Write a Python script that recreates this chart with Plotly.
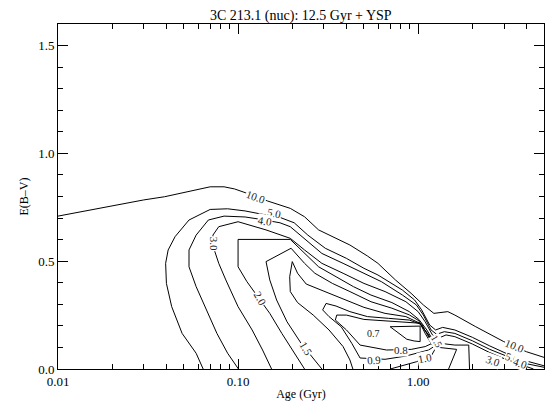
import math
import plotly.graph_objects as go

# Chi-square contours of age vs. reddening for the young stellar population
AGE_10 = [0.0100, 0.0167, 0.0299, 0.0391, 0.0500, 0.0585, 0.0700, 0.0836, 0.0956, 0.1094,
          0.146, 0.195, 0.234, 0.280, 0.350, 0.418, 0.523, 0.598, 0.748, 0.914,
          1.069, 1.223, 1.462, 1.600, 2.09, 2.99, 4.0, 5.0]
EBV_10 = [0.709, 0.745, 0.784, 0.799, 0.818, 0.833, 0.845, 0.845, 0.835, 0.818,
          0.779, 0.745, 0.706, 0.645, 0.606, 0.575, 0.524, 0.490, 0.413, 0.351,
          0.297, 0.258, 0.266, 0.250, 0.196, 0.127, 0.080, 0.054]

AGE_5 = [0.064, 0.0585, 0.0489, 0.0428, 0.0400, 0.0396, 0.0409, 0.0447, 0.0534, 0.0700,
         0.0875, 0.1094, 0.1337, 0.171, 0.205, 0.244, 0.305, 0.400, 0.500, 0.598,
         0.818, 0.956, 1.046, 1.159, 1.250, 1.368, 1.600, 2.0, 2.50, 3.126, 3.91, 5.0]
EBV_5 = [0.0, 0.073, 0.165, 0.289, 0.397, 0.490, 0.552, 0.614, 0.691, 0.740,
         0.743, 0.733, 0.719, 0.703, 0.678, 0.621, 0.560, 0.513, 0.467, 0.436,
         0.366, 0.320, 0.274, 0.204, 0.181, 0.193, 0.181, 0.147, 0.107, 0.070, 0.039, 0.015]

AGE_4 = [0.1005, 0.0875, 0.0763, 0.0668, 0.0585, 0.0534, 0.0534, 0.0585, 0.0684, 0.0836,
         0.1094, 0.1337, 0.171, 0.195, 0.234, 0.292, 0.383, 0.500, 0.625, 0.818,
         0.978, 1.069, 1.180, 1.267, 1.398, 1.600, 2.0, 2.50, 3.126, 3.91, 5.0]
EBV_4 = [0.0, 0.073, 0.165, 0.274, 0.382, 0.474, 0.552, 0.621, 0.691, 0.709,
         0.705, 0.694, 0.678, 0.660, 0.606, 0.536, 0.490, 0.444, 0.405, 0.343,
         0.297, 0.250, 0.181, 0.161, 0.173, 0.165, 0.131, 0.091, 0.057, 0.026, 0.008]

AGE_3 = [0.1535, 0.1368, 0.1197, 0.100, 0.0855, 0.0781, 0.0738, 0.0725, 0.0781, 0.100,
         0.143, 0.195, 0.234, 0.292, 0.383, 0.500, 0.655, 0.855, 1.0, 1.094,
         1.201, 1.291, 1.429, 1.600, 2.0, 2.50, 3.126, 3.91, 4.37]
EBV_3 = [0.0, 0.088, 0.181, 0.289, 0.413, 0.490, 0.552, 0.621, 0.660, 0.683,
         0.645, 0.606, 0.552, 0.490, 0.444, 0.397, 0.359, 0.312, 0.266, 0.219,
         0.158, 0.142, 0.158, 0.150, 0.116, 0.076, 0.042, 0.014, 0.0]

AGE_2 = [0.234, 0.205, 0.175, 0.150, 0.131, 0.112, 0.100, 0.100, 0.195, 0.234,
         0.280, 0.350, 0.437, 0.547, 0.715, 0.893, 1.009, 1.118, 1.223, 1.325,
         1.600, 1.91, 1.929]
EBV_2 = [0.0, 0.073, 0.165, 0.258, 0.328, 0.405, 0.474, 0.601, 0.601, 0.536,
         0.474, 0.428, 0.382, 0.343, 0.308, 0.266, 0.230, 0.181, 0.127, 0.119,
         0.111, 0.111, 0.0]

AGE_15 = [0.292, 0.2615, 0.224, 0.187, 0.1637, 0.150, 0.143, 0.197, 0.234, 0.267,
          0.334, 0.418, 0.547, 0.715, 0.893, 1.009, 1.094, 1.196, 1.308, 1.636, 1.476]
EBV_15 = [0.0, 0.049, 0.119, 0.219, 0.320, 0.413, 0.498, 0.560, 0.490, 0.444,
          0.397, 0.359, 0.312, 0.282, 0.251, 0.224, 0.165, 0.111, 0.100, 0.091, 0.0]

AGE_1 = [0.700, 0.982, 1.19, 1.25, 1.159, 1.023, 0.855, 0.655, 0.500, 0.383,
         0.292, 0.239, 0.214, 0.200, 0.1935, 0.195, 0.214, 0.2615, 0.320, 0.383,
         0.418, 0.434]
EBV_1 = [0.0, 0.034, 0.065, 0.096, 0.150, 0.212, 0.243, 0.258, 0.286, 0.325,
         0.363, 0.394, 0.444, 0.498, 0.428, 0.359, 0.308, 0.250, 0.181, 0.104,
         0.042, 0.0]

AGE_09 = [1.023, 0.893, 0.684, 0.523, 0.418, 0.350, 0.308, 0.295, 0.320, 0.374,
          0.428, 0.476, 0.655, 0.855, 1.143, 1.223, 1.143, 1.023]
EBV_09 = [0.209, 0.227, 0.235, 0.243, 0.266, 0.292, 0.304, 0.274, 0.243, 0.196,
          0.119, 0.051, 0.045, 0.060, 0.088, 0.104, 0.158, 0.209]

AGE_08 = [1.040, 0.818, 0.655, 0.500, 0.400, 0.353, 0.347, 0.400, 0.476, 0.668,
          0.915, 1.094, 1.196, 1.118, 1.040]
EBV_08 = [0.212, 0.218, 0.224, 0.230, 0.250, 0.250, 0.227, 0.181, 0.111, 0.088,
          0.091, 0.104, 0.119, 0.165, 0.212]

AGE_07 = [0.699, 0.800, 0.865, 0.950, 1.026, 1.026, 0.850, 0.699]
EBV_07 = [0.196, 0.160, 0.138, 0.130, 0.127, 0.199, 0.199, 0.196]

CONTOURS = [
    (AGE_10, EBV_10), (AGE_5, EBV_5), (AGE_4, EBV_4), (AGE_3, EBV_3),
    (AGE_2, EBV_2), (AGE_15, EBV_15), (AGE_1, EBV_1), (AGE_09, EBV_09),
    (AGE_08, EBV_08), (AGE_07, EBV_07),
]

# Contour level labels: text, age, E(B-V), rotation (deg, clockwise), font size
LABEL_TEXT = ["10.0", "10.0", "5.0", "4.0", "3.0", "2.0", "1.5",
              "0.7", "0.8", "0.9", "1.0", "1.5", "3.0", "5.0", "4.0"]
LABEL_AGE = [0.126, 3.45, 0.158, 0.1416, 0.0731, 0.132, 0.237,
             0.566, 0.80, 0.57, 1.094, 1.267, 2.62, 3.34, 3.66]
LABEL_EBV = [0.799, 0.108, 0.722, 0.688, 0.583, 0.328, 0.096,
             0.165, 0.088, 0.042, 0.049, 0.127, 0.039, 0.049, 0.026]
LABEL_ANGLE = [20, 22, 12, 10, 90, 60, 60, 0, 0, -5, -10, 60, 20, 20, 20]
LABEL_SIZE = [11, 11, 11, 11, 11, 11, 11, 10, 11, 11, 11, 10, 11, 11, 11]

X_TICKS = [0.01, 0.1, 1.0]
X_TICK_TEXT = ["0.01", "0.10", "1.00"]
X_MINOR = [m * d for d in (0.01, 0.1, 1.0) for m in range(2, 10) if m * d <= 5.0]
Y_TICKS = [0.0, 0.5, 1.0, 1.5]
Y_TICK_TEXT = ["0.0", "0.5", "1.0", "1.5"]

SERIF = "Liberation Serif, Times New Roman, serif"

fig = go.Figure()
for ages, ebvs in CONTOURS:
    fig.add_trace(go.Scatter(
        x=ages, y=ebvs, mode="lines",
        line=dict(color="black", width=1),
        hoverinfo="skip", showlegend=False,
    ))

for txt, a, e, ang, sz in zip(LABEL_TEXT, LABEL_AGE, LABEL_EBV, LABEL_ANGLE, LABEL_SIZE):
    fig.add_annotation(
        x=math.log10(a), y=e, xref="x", yref="y", text=txt,
        showarrow=False, textangle=ang,
        font=dict(family=SERIF, size=sz, color="#222"),
        bgcolor="white", borderpad=0,
    )

axis_common = dict(
    showline=True, linecolor="black", linewidth=1, mirror="allticks",
    ticks="inside", ticklen=10, tickwidth=1, tickcolor="black",
    showgrid=False, zeroline=False,
    tickfont=dict(family=SERIF, size=13, color="black"),
)

fig.update_xaxes(
    type="log", range=[-2, math.log10(5.0)],
    tickmode="array", tickvals=X_TICKS, ticktext=X_TICK_TEXT,
    minor=dict(tickmode="array", tickvals=X_MINOR, ticks="inside", ticklen=5,
               tickcolor="black", tickwidth=1, showgrid=False),
    title=dict(text="Age (Gyr)", font=dict(family=SERIF, size=12, color="black"), standoff=2),
    **axis_common,
)
fig.update_yaxes(
    range=[0, 1.6],
    tickmode="array", tickvals=Y_TICKS, ticktext=Y_TICK_TEXT,
    minor=dict(dtick=0.1, tick0=0, ticks="inside", ticklen=5,
               tickcolor="black", tickwidth=1, showgrid=False),
    title=dict(text="E(B–V)", font=dict(family=SERIF, size=12, color="black"), standoff=6),
    **axis_common,
)

fig.update_layout(
    width=547, height=406,
    margin=dict(l=58, r=3, t=24, b=37, autoexpand=False),
    paper_bgcolor="white", plot_bgcolor="white",
    title=dict(text="3C 213.1 (nuc): 12.5 Gyr + YSP", x=0.55, xanchor="center",
               y=0.975, yanchor="top",
               font=dict(family=SERIF, size=14, color="black")),
    showlegend=False,
)

fig.write_html("out.html")
